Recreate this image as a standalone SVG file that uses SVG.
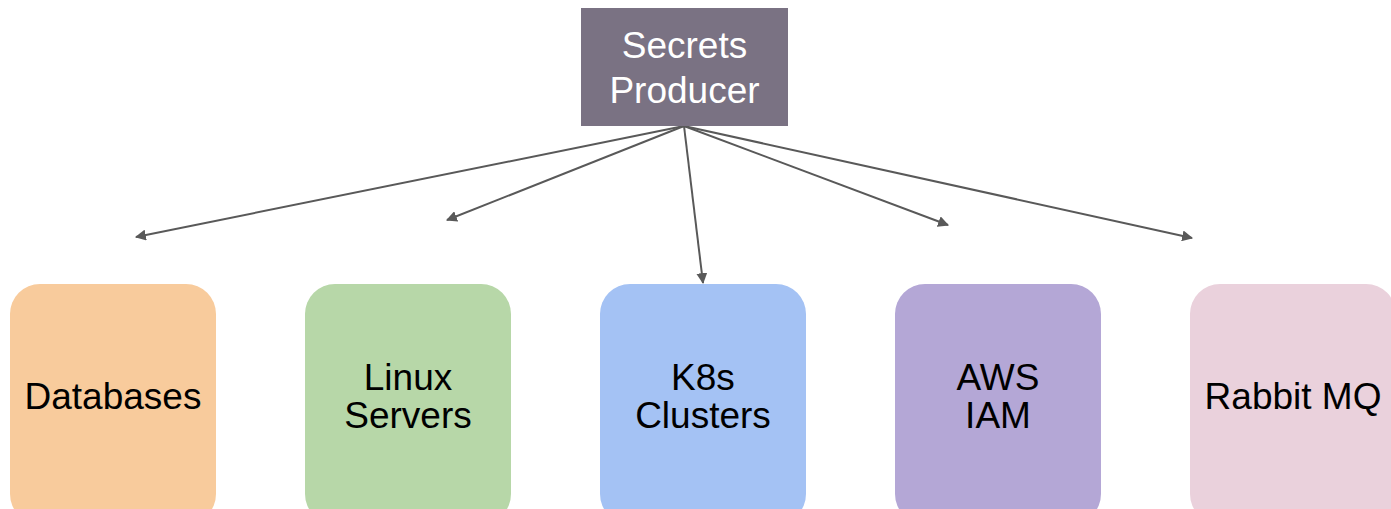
<svg xmlns="http://www.w3.org/2000/svg" width="1391" height="509" viewBox="0 0 1391 509">
<style>
text{font-family:"Liberation Sans",Arial,sans-serif;font-size:37px;text-anchor:middle}
.w{fill:#ffffff}
.k{fill:#000000}
.c{stroke:#595959;stroke-width:2;fill:none;marker-end:url(#a)}
</style>
<defs>
<marker id="a" viewBox="0 0 10 10" refX="9" refY="5" markerWidth="5.5" markerHeight="5.5" orient="auto" markerUnits="strokeWidth">
<path d="M0,0 L10,5 L0,10 z" fill="#595959"/>
</marker>
</defs>
<rect width="1391" height="509" fill="#ffffff"/>
<g id="connectors">
<line class="c" x1="684" y1="126" x2="136" y2="237"/>
<line class="c" x1="684" y1="126" x2="447" y2="220"/>
<line class="c" x1="684" y1="126" x2="703" y2="283"/>
<line class="c" x1="684" y1="126" x2="948" y2="225"/>
<line class="c" x1="684" y1="126" x2="1192" y2="238"/>
</g>
<g id="producer">
<rect x="581" y="8" width="207" height="118" fill="#7a7283"/>
<text class="w" x="684.5" y="58">Secrets</text>
<text class="w" x="684.5" y="103">Producer</text>
</g>
<g id="databases">
<rect x="10" y="284" width="206" height="240" rx="30" fill="#f8cb9c"/>
<text class="k" x="113" y="409">Databases</text>
</g>
<g id="linux">
<rect x="305" y="284" width="206" height="240" rx="30" fill="#b7d7a8"/>
<text class="k" x="408" y="390">Linux</text>
<text class="k" x="408" y="428">Servers</text>
</g>
<g id="k8s">
<rect x="600" y="284" width="206" height="240" rx="30" fill="#a4c2f4"/>
<text class="k" x="703" y="390">K8s</text>
<text class="k" x="703" y="428">Clusters</text>
</g>
<g id="aws">
<rect x="895" y="284" width="206" height="240" rx="30" fill="#b4a7d6"/>
<text class="k" x="998" y="390">AWS</text>
<text class="k" x="998" y="428">IAM</text>
</g>
<g id="rabbit">
<rect x="1190" y="284" width="206" height="240" rx="30" fill="#ead1dc"/>
<text class="k" x="1293" y="409">Rabbit MQ</text>
</g>
</svg>
